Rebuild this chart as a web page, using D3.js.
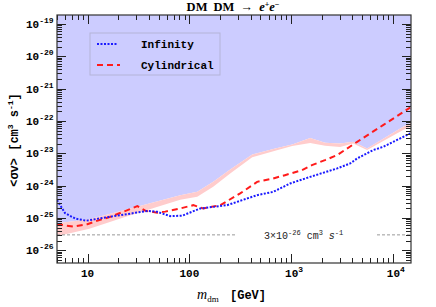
<!DOCTYPE html>
<html>
<head>
<meta charset="utf-8">
<title>DM DM to e+e-</title>
<style>
body{margin:0;background:#fff;}
svg{display:block;}
.mono{font-family:'Liberation Mono','DejaVu Sans Mono',monospace;font-weight:bold;}
.serif{font-family:'Liberation Serif','DejaVu Serif',serif;}
</style>
</head>
<body>
<div id="chart"></div>
<script src="https://d3js.org/d3.v7.min.js"></script>
<script>
// "Infinity" limit (blue dotted)
var massInf = [5, 6, 7.6, 9.7, 14.9, 29.4, 39.5, 48.4, 64.9, 85.2, 128, 235, 464, 667, 980, 1541, 2838, 3809, 4465, 6421, 8053, 14830];
var svInf   = [3.56e-25, 1.41e-25, 9.5e-26, 8.24e-26, 1.035e-25, 1.44e-25, 1.66e-25, 1.55e-25, 1.14e-25, 1.18e-25, 1.97e-25, 2.49e-25, 5.08e-25, 6.43e-25, 1.17e-24, 1.87e-24, 3.41e-24, 4.86e-24, 6.95e-24, 1.26e-23, 1.59e-23, 4.13e-23];

// "Cylindrical" limit (red dashed)
var massCyl = [5, 7.24, 9.93, 13.3, 16.7, 21.9, 30.8, 36.9, 48.4, 58, 81.4, 109.2, 136.9, 201, 316, 464, 667, 871, 1280, 1603, 2151, 2836, 4466, 8030, 14800];
var svCyl   = [6.43e-26, 5.38e-26, 6.43e-26, 8.85e-26, 1.08e-25, 1.51e-25, 2.32e-25, 1.68e-25, 1.46e-25, 1.57e-25, 1.97e-25, 2.49e-25, 1.97e-25, 2.49e-25, 5.74e-25, 1.31e-24, 1.67e-24, 2.11e-24, 3.02e-24, 4.31e-24, 6.15e-24, 8.79e-24, 2.27e-23, 7.46e-23, 2.6e-22];

// excluded region: upper / lower edge of the pink band
var massBand = [5, 10.4, 26.3, 81.4, 119.6, 171.7, 252, 415, 698, 1026, 1541, 2163, 3034, 4073, 5589, 12620, 15140];
var bandUp   = [6.9e-26, 9.18e-26, 1.97e-25, 5.08e-25, 6.43e-25, 1.31e-24, 3.18e-24, 9.25e-24, 1.42e-23, 1.89e-23, 2.96e-23, 2.14e-23, 2.03e-23, 2.27e-23, 1.42e-23, 6.61e-23, 8.92e-23];
var bandLow  = [2.74e-26, 4.67e-26, 1.22e-25, 3.69e-25, 4.5e-25, 9.18e-25, 2.39e-24, 7.62e-24, 1.21e-23, 1.67e-23, 2.07e-23, 1.73e-23, 1.56e-23, 2.0e-23, 1.26e-23, 5.23e-23, 6.71e-23];

var thermal = 3e-26;
var xTickLabels = [10, 100, 1000, 10000];
var yTickLabels = [-26, -25, -24, -23, -22, -21, -20, -19];

var W = 436, H = 307;
var L = 57, R = 411, T = 15, B = 263;

var x = d3.scaleLog().domain([5, 15100]).range([L, R]);
var y = d3.scaleLog().domain([Math.pow(10, -26.393), Math.pow(10, -18.721)]).range([B, T]);

var svg = d3.select("#chart").append("svg")
    .attr("width", W).attr("height", H);

svg.append("clipPath").attr("id", "clip")
  .append("rect").attr("x", L).attr("y", T).attr("width", R - L).attr("height", B - T);

var plot = svg.append("g").attr("clip-path", "url(#clip)");

var band = massBand.map(function(m, i){ return {m: m, up: bandUp[i], low: bandLow[i]}; });

// blue excluded area
plot.append("path")
    .datum(band)
    .attr("fill", "#ccccff")
    .attr("d", d3.area()
        .x(function(d){ return x(d.m); })
        .y0(T)
        .y1(function(d){ return y(d.up); }));

// pink band
plot.append("path")
    .datum(band)
    .attr("fill", "#ffcccc")
    .attr("d", d3.area()
        .x(function(d){ return x(d.m); })
        .y0(function(d){ return y(d.up); })
        .y1(function(d){ return y(d.low); }));

// thermal relic line, broken around its label
var yt = y(thermal);
plot.append("line").attr("x1", L).attr("x2", 237).attr("y1", yt).attr("y2", yt)
    .attr("stroke", "#999").attr("stroke-width", 1).attr("stroke-dasharray", "3,2");
plot.append("line").attr("x1", 377).attr("x2", R).attr("y1", yt).attr("y2", yt)
    .attr("stroke", "#999").attr("stroke-width", 1).attr("stroke-dasharray", "3,2");

var lbl = svg.append("text").attr("x", 264).attr("y", yt + 4)
    .style("font-family", "'Liberation Mono', monospace").style("font-size", "10px").attr("fill", "#222");
lbl.append("tspan").text("3\u00d710");
lbl.append("tspan").attr("dy", -4).style("font-size", "7px").text("-26");
lbl.append("tspan").attr("dy", 4).text(" cm");
lbl.append("tspan").attr("dy", -4).style("font-size", "7px").text("3");
lbl.append("tspan").attr("dy", 4).style("font-style", "italic").text(" s");
lbl.append("tspan").attr("dy", -4).style("font-size", "7px").text("-1");

var line = d3.line()
    .x(function(d){ return x(d[0]); })
    .y(function(d){ return y(d[1]); });

plot.append("path")
    .datum(massCyl.map(function(m, i){ return [m, svCyl[i]]; }))
    .attr("fill", "none").attr("stroke", "#ff1a1a").attr("stroke-width", 2)
    .attr("stroke-dasharray", "6,4")
    .attr("d", line);

plot.append("path")
    .datum(massInf.map(function(m, i){ return [m, svInf[i]]; }))
    .attr("fill", "none").attr("stroke", "#1a1aff").attr("stroke-width", 2)
    .attr("stroke-dasharray", "2,1.5")
    .attr("d", line);

// legend
svg.append("rect").attr("x", 90).attr("y", 33).attr("width", 130).attr("height", 42)
    .attr("fill", "none").attr("stroke", "#b4b4d8").attr("stroke-width", 1);
svg.append("line").attr("x1", 97).attr("x2", 118).attr("y1", 44).attr("y2", 44)
    .attr("stroke", "#1a1aff").attr("stroke-width", 2).attr("stroke-dasharray", "2,1.5");
svg.append("line").attr("x1", 97).attr("x2", 120).attr("y1", 65).attr("y2", 65)
    .attr("stroke", "#ff1a1a").attr("stroke-width", 2).attr("stroke-dasharray", "6,4");
svg.append("text").attr("class", "mono").attr("x", 141).attr("y", 48)
    .style("font-size", "11px").text("Infinity");
svg.append("text").attr("class", "mono").attr("x", 141).attr("y", 69)
    .style("font-size", "11px").text("Cylindrical");

// ticks
var axes = svg.append("g").attr("stroke", "#222").attr("stroke-width", 1);
var xTicks = x.ticks();
xTicks.forEach(function(t){
  var major = xTickLabels.indexOf(t) >= 0;
  var len = major ? 9 : 5;
  var px = Math.round(x(t)) + 0.5;
  axes.append("line").attr("x1", px).attr("x2", px).attr("y1", B).attr("y2", B - len);
  axes.append("line").attr("x1", px).attr("x2", px).attr("y1", T).attr("y2", T + len);
});
var yTicks = y.ticks();
yTicks.forEach(function(t){
  var e = Math.round(Math.log10(t));
  var major = Math.abs(Math.log10(t) - e) < 1e-6;
  var len = major ? 9 : 5;
  var py = Math.round(y(t)) + 0.5;
  axes.append("line").attr("x1", L).attr("x2", L + len).attr("y1", py).attr("y2", py);
  axes.append("line").attr("x1", R).attr("x2", R - len).attr("y1", py).attr("y2", py);
});

svg.append("rect").attr("x", L).attr("y", T).attr("width", R - L).attr("height", B - T)
    .attr("fill", "none").attr("stroke", "#333").attr("stroke-width", 1.2);

// tick labels
xTickLabels.forEach(function(t){
  var e = Math.round(Math.log10(t));
  var tx = svg.append("text").attr("class", "mono").attr("y", 277)
      .attr("text-anchor", "middle").style("font-size", "11px");
  if (e <= 2) {
    tx.attr("x", x(t)).text(String(t));
  } else {
    tx.attr("x", x(t) + 3);
    tx.append("tspan").text("10");
    tx.append("tspan").attr("dy", -5).style("font-size", "8px").text(String(e));
  }
});
yTickLabels.forEach(function(e){
  var ty = svg.append("text").attr("class", "mono")
      .attr("x", 26).attr("y", y(Math.pow(10, e)) + 4)
      .style("font-size", "11px");
  ty.append("tspan").text("10");
  ty.append("tspan").attr("dy", -5).style("font-size", "8px").text(String(e));
});

// title
var title = svg.append("text").attr("class", "serif").attr("x", 233).attr("y", 11)
    .attr("text-anchor", "middle").style("font-size", "12.5px").style("font-weight", "bold")
    .style("word-spacing", "3px");
title.append("tspan").text("DM DM \u2192 ");
title.append("tspan").style("font-style", "italic").text("e");
title.append("tspan").attr("dy", -4).style("font-size", "8px").text("+");
title.append("tspan").attr("dy", 4).style("font-style", "italic").text("e");
title.append("tspan").attr("dy", -4).style("font-size", "8px").text("\u2212");

// axis titles
var xl = svg.append("text").attr("x", 197).attr("y", 299).style("font-size", "14px");
xl.append("tspan").attr("class", "serif").style("font-style", "italic").text("m");
xl.append("tspan").attr("class", "serif").attr("dy", 3).style("font-size", "9px").text("dm");
xl.append("tspan").attr("class", "mono").attr("dy", -3).attr("x", 230).style("font-size", "12px").text("[GeV]");

var yl = svg.append("text").attr("transform", "translate(18,140) rotate(-90)")
    .attr("text-anchor", "middle").attr("class", "mono").style("font-size", "12px");
yl.append("tspan").text("<\u03c3v>  [cm");
yl.append("tspan").attr("dy", -5).style("font-size", "8px").text("3");
yl.append("tspan").attr("dy", 5).text(" s");
yl.append("tspan").attr("dy", -5).style("font-size", "8px").text("-1");
yl.append("tspan").attr("dy", 5).text("]");
</script>
</body>
</html>
